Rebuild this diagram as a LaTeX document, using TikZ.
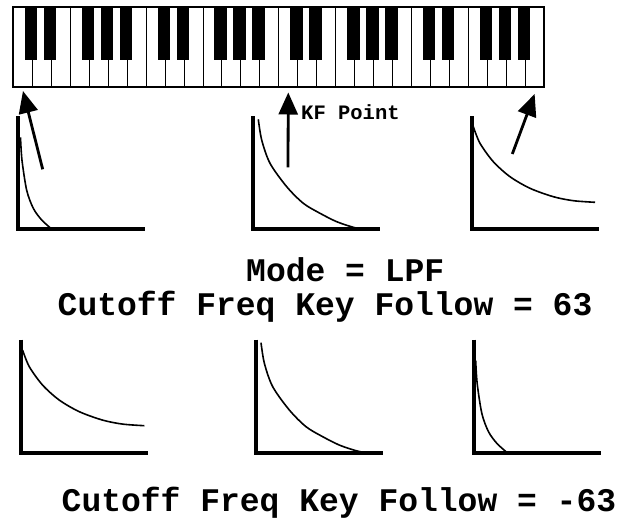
\documentclass[tikz,border=0pt]{standalone}
\usepackage{fontspec}
\setmonofont{Liberation Mono}
\usetikzlibrary{arrows.meta}

% the three filter responses, drawn from the corner of their axes
\newcommand{\steepdecay}{plot[smooth] coordinates {(2.2,-92) (3.7,-69) (8.4,-39) (15,-21) (23.4,-9.3) (33.7,0)}}
\newcommand{\middecay}{plot[smooth] coordinates {(5,-110) (8.4,-89.3) (16.7,-66) (33.4,-42.6) (50,-26) (66.7,-16) (83.4,-7.6) (100,-2) (110,0)}}
\newcommand{\slowdecay}{plot[smooth] coordinates {(1.6,-102.6) (8.3,-86) (21.6,-67.6) (38.3,-52.6) (58.3,-41) (81.6,-32.6) (101.6,-28.6) (123.3,-27)}}

\begin{document}
\begin{tikzpicture}[x=1pt,y=-1pt,
    whitekey/.style={draw,line width=1pt,fill=white,inner sep=0pt,anchor=north west,
      minimum width={\kw*1pt},minimum height=80pt},
    axisline/.style={line width=4pt,line join=miter},
    curve/.style={line width=1.6pt},
    pointer/.style={line width=2.8pt,-{Triangle[length=22pt,width=19pt]}},
    caption/.style={font=\fontsize{33}{40}\selectfont\ttfamily\bfseries,inner sep=0pt,anchor=base west},
    kflabel/.style={font=\fontsize{20.5}{24}\selectfont\ttfamily\bfseries,inner sep=0pt,anchor=base west}]
\useasboundingbox (0,0) rectangle (620,518);
\def\kw{18.95}

% Keyboard, four octaves from C
\foreach \i in {0,...,27}
  \node[whitekey] (key\i) at ({13+\i*\kw},7) {};
\foreach \o in {0,...,3}
  \foreach \k in {1,2,4,5,6}
    \fill ({13+(7*\o+\k)*\kw-7},7) rectangle ++(12.5,53);
\draw[line width=2pt] (13,7) rectangle (543.6,87);

% Corners of the six graphs
\coordinate (topLeft) at (18.3,229.3);
\coordinate (topMid) at (253.3,229.3);
\coordinate (topRight) at (471.7,229.3);
\coordinate (botLeft) at (21,452.7);
\coordinate (botMid) at (256,452.7);
\coordinate (botRight) at (473.5,452.7);

\foreach \g in {topLeft,topMid,topRight,botLeft,botMid,botRight}
  \draw[axisline] ([yshift=113pt]\g) -- (\g) -- ++(127,0);

\draw[curve,shift={(topLeft)}] \steepdecay;
\draw[curve,shift={(topMid)}] \middecay;
\draw[curve,shift={(topRight)}] \slowdecay;
\draw[curve,shift={(botLeft)}] \slowdecay;
\draw[curve,shift={(botMid)}] \middecay;
\draw[curve,shift={(botRight)}] \steepdecay;

% Arrows up to the keys
\coordinate (tailLow) at (42.7,169.3);
\coordinate (tailKF) at (288,167.3);
\coordinate (tailHigh) at (512.3,154);
\draw[pointer] (tailLow) -- ([yshift=-3pt]key0.south);
\draw[pointer] (tailKF) -- ([yshift=-4.5pt]key14.south);
\draw[pointer] (tailHigh) -- ([yshift=-6pt]key27.south);
\node[kflabel] (kfpoint) at (301,119.3) {KF Point};

% Captions
\node[caption] (mode) at (246,281.7) {Mode = LPF};
\node[caption] (kfpos) at (57.5,315) {Cutoff Freq Key Follow = 63};
\node[caption] (kfneg) at (61.5,511) {Cutoff Freq Key Follow = -63};
\end{tikzpicture}
\end{document}
